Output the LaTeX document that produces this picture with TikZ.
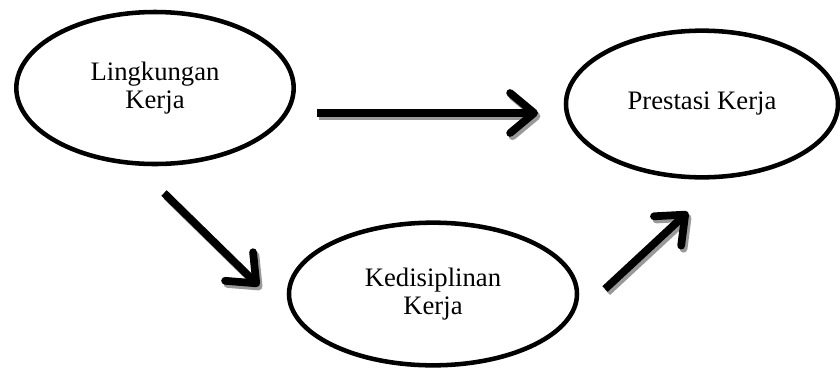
\documentclass[tikz,border=0pt]{standalone}
\usepackage{fontspec}
\setmainfont{Liberation Serif}
\usetikzlibrary{shapes.geometric,arrows.meta}
\begin{document}
\begin{tikzpicture}[x=0.75pt,y=-0.75pt,
  oval/.style={draw=black,line width=3.4pt,ellipse,inner sep=0pt,align=center,
    font=\fontsize{20}{20.5}\selectfont},
  bigarrow/.style={line width=5.8pt,-{Straight Barb[length=18pt,width=30pt,line width=5.8pt,round]}},
  shadowarrow/.style={bigarrow,draw=black!40,transform canvas={shift={(1.8pt,-2.4pt)}}}]
\useasboundingbox (0,0) rectangle (840,376);
\node[oval,minimum width=208pt,minimum height=114pt] (lk) at (155,88) {Lingkungan\\Kerja};
\node[oval,minimum width=204pt,minimum height=110pt] (pk) at (702,104) {Prestasi Kerja};
\node[oval,minimum width=216pt,minimum height=107pt] (kk) at (433,294) {Kedisiplinan\\Kerja};
\coordinate (a1s) at (317,113);
\coordinate (a1e) at (538,113);
\coordinate (a2s) at (164,193);
\coordinate (a2e) at (259,286);
\coordinate (a3s) at (605,289);
\coordinate (a3e) at (688,212);
\draw[shadowarrow] (a1s) -- (a1e);
\draw[shadowarrow] (a2s) -- (a2e);
\draw[shadowarrow] (a3s) -- (a3e);
\draw[bigarrow] (a1s) -- (a1e);
\draw[bigarrow] (a2s) -- (a2e);
\draw[bigarrow] (a3s) -- (a3e);
\end{tikzpicture}
\end{document}
